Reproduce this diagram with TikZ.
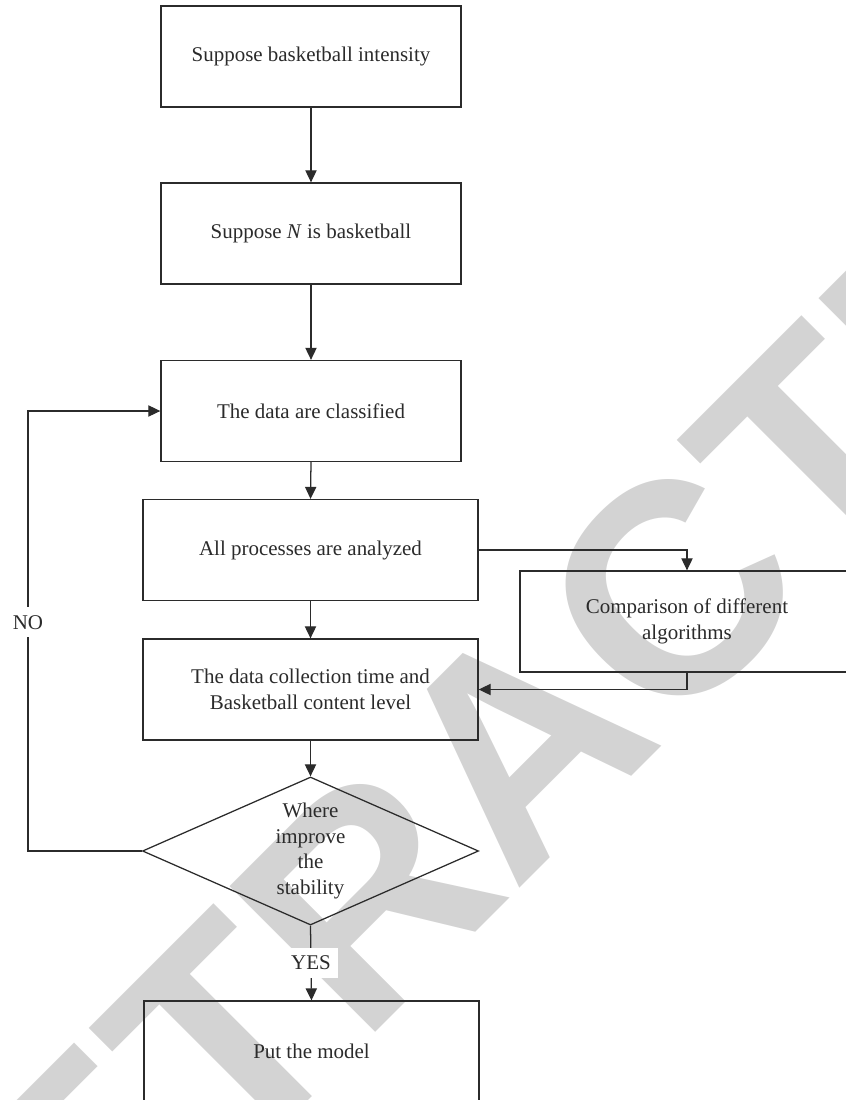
\documentclass[tikz,border=0pt]{standalone}
\usepackage{fontspec}
\setmainfont{Liberation Serif}
\newfontfamily\wmfont{Liberation Sans}
\usepackage{xcolor}
\usetikzlibrary{arrows.meta}
\usetikzlibrary{shapes.geometric}
\definecolor{wmgray}{HTML}{D3D3D3}
\definecolor{ink}{HTML}{2B2B2B}
\tikzset{
    box/.style={draw=ink, line width=0.9pt, minimum width=7.5cm, minimum height=2.525cm, align=center, inner sep=0pt},
    wbox/.style={box, minimum width=8.375cm},
    arr/.style={draw=ink, line width=0.9pt, -{Triangle[length=0.3cm,width=0.28cm]}},
    lbl/.style={fill=white, inner sep=1pt, minimum width=1.35cm, minimum height=0.75cm}
}

\begin{document}
\begin{tikzpicture}[x=0.025cm, y=-0.025cm, font=\fontsize{14.9}{18.4}\selectfont, text=ink]
\useasboundingbox (0,0) rectangle (846,1100);
\clip (0,0) rectangle (846,1100);
% watermark behind everything
\node[rotate=45, text=wmgray, font=\wmfont\bfseries\fontsize{213}{213}\selectfont] (wm) at (518.5,744.5) {RETRACTED};
\foreach \y/\p/\labeltext in {56.5/b1/{Suppose basketball intensity}, 233.5/b2/{Suppose \textit{N} is basketball}, 411/b3/{The data are classified}}{
    \node[box] (\p) at (311,\y) {\labeltext};
}
\node[wbox] (b4) at (310.5,550) {All processes are analyzed};
\node[wbox] (b5) at (310.5,689.5) {The data collection time and\\Basketball content level};
\node[wbox, minimum width=8.35cm] (cmp) at (687,621.5) {Comparison of different\\algorithms};
\node[diamond, draw=ink, line width=0.9pt, aspect=2.27, minimum width=8.4cm, minimum height=3.7cm, inner sep=0pt, align=center] (dec) at (310.5,851) {Where\\improve\\the\\stability};
\node[wbox] (b6) at (311.5,1051.5) {Put the model};
\coordinate (loop) at (28,851);
\draw[arr] (b1.south) -- (b2.north);
\draw[arr] (b2.south) -- (b3.north);
\draw[arr] (b3.south) -- (b4.north);
\draw[arr] (b4.south) -- (b5.north);
\draw[arr] (b5.south) -- (dec.north);
\draw[arr] (b4.east) -| (cmp.north);
\draw[arr] (cmp.south) |- (b5.east);
\draw[arr] (dec.south) -- node[lbl] (yes) {YES} (b6.north);
\draw[arr] (dec.west) -- (loop) -- node[lbl, pos=0.52] (no) {NO} (loop |- b3.west) -- (b3.west);
\end{tikzpicture}
\end{document}
